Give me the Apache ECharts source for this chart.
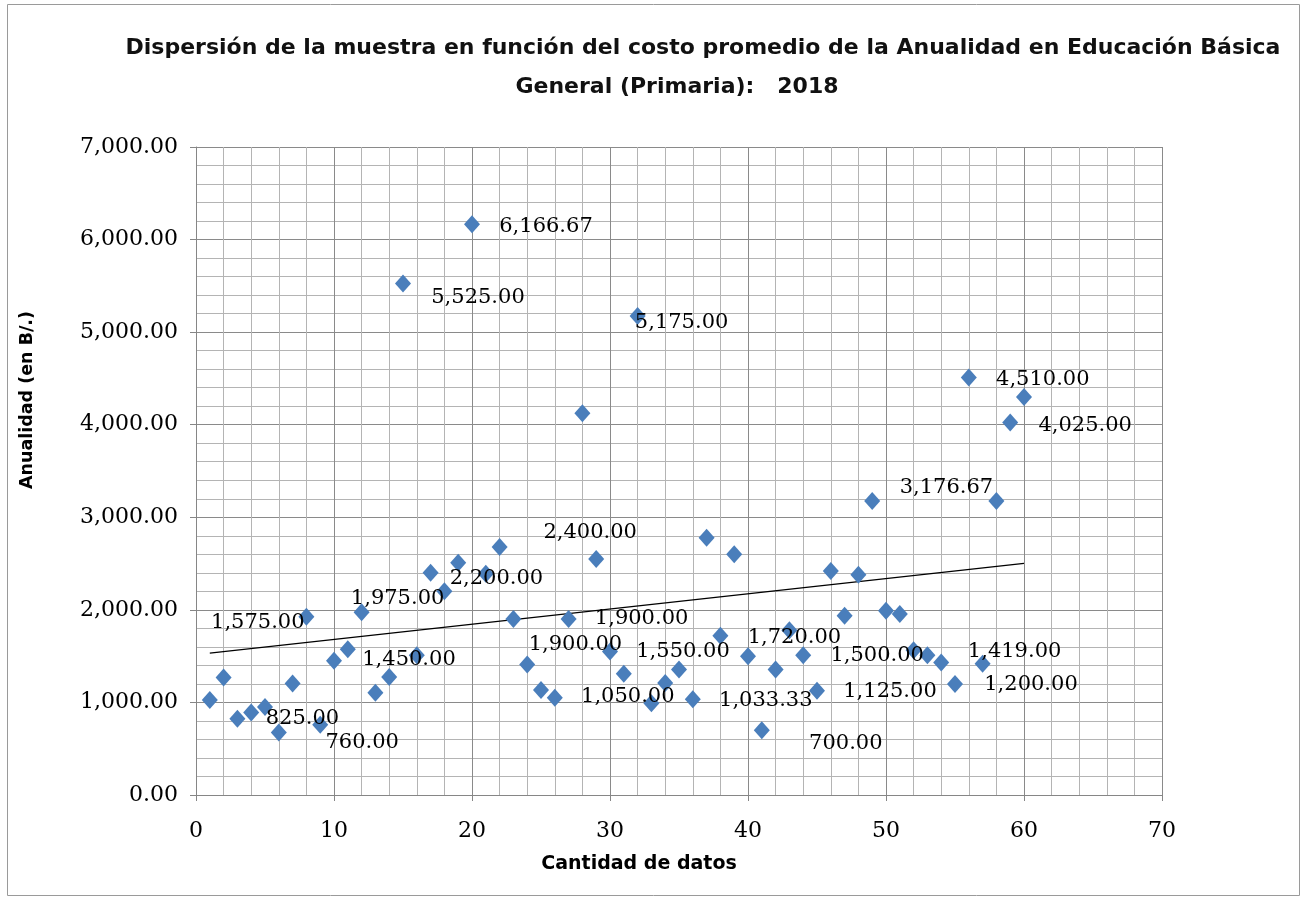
<!DOCTYPE html>
<html>
<head>
<meta charset="utf-8">
<title>Dispersión de la muestra</title>
<script src="https://cdn.jsdelivr.net/npm/echarts@6/dist/echarts.min.js"></script>
<style>
  html, body { margin: 0; padding: 0; background: #fff; }
  #chart { width: 1307px; height: 899px; }
</style>
</head>
<body>
<div id="chart"></div>
<script>
// muestra: posición (1..60) y anualidad en B/.
var positions = [];
for (var i = 1; i <= 60; i++) positions.push(i);

var anualidad = [
  1025, 1270, 825, 890, 950, 675, 1205, 1925, 760, 1450,
  1575, 1975, 1105, 1275, 5525, 1510, 2400, 2200, 2510, 6166.67,
  2390, 2680, 1900, 1410, 1135, 1050, 1900, 4125, 2550, 1550,
  1310, 5175, 990, 1210, 1355, 1033.33, 2780, 1720, 2600, 1500,
  700, 1355, 1780, 1510, 1125, 2420, 1935, 2380, 3176.67, 1990,
  1955, 1565, 1510, 1430, 1200, 4510, 1419, 3176.67, 4025, 4300
];

// etiquetas de datos que aparecen en el gráfico (punto -> texto)
var labelPoints = [20, 15, 32, 56, 59, 58, 29, 18, 12, 11, 10, 3, 9, 27, 23, 30, 26, 36, 38, 41, 44, 45, 57, 55];
var labelTexts = ['6,166.67', '5,525.00', '5,175.00', '4,510.00', '4,025.00', '3,176.67', '2,400.00', '2,200.00',
  '1,975.00', '1,575.00', '1,450.00', '825.00', '760.00', '1,900.00', '1,900.00', '1,550.00', '1,050.00',
  '1,033.33', '1,720.00', '700.00', '1,500.00', '1,125.00', '1,419.00', '1,200.00'];
// desplazamiento de cada etiqueta (px), igual que quedaron en el original
var labelOffsets = [[74, 2], [75, 14], [44, 7], [74, 2], [75, 3], [-50, -13], [-6, -26], [52, -13],
  [36, -14], [-90, -27], [75, -1], [65, 0], [42, 18], [73, -1], [62, 25], [73, 0], [73, -1],
  [73, 1], [74, 2], [84, 13], [74, 0], [73, 1], [32, -12], [76, 1]];

var xTicks = { min: 0, max: 70, interval: 10 };
var yTicks = { min: 0, max: 7000, interval: 1000 };

// línea de tendencia (mínimos cuadrados)
function trend(xs, ys) {
  var n = xs.length, sx = 0, sy = 0, sxx = 0, sxy = 0;
  for (var k = 0; k < n; k++) {
    sx += xs[k]; sy += ys[k]; sxx += xs[k] * xs[k]; sxy += xs[k] * ys[k];
  }
  var b = (n * sxy - sx * sy) / (n * sxx - sx * sx);
  var a = (sy - b * sx) / n;
  return [[xs[0], a + b * xs[0]], [xs[n - 1], a + b * xs[n - 1]]];
}

var fmt = function (v) {
  return v.toLocaleString('en-US', { minimumFractionDigits: 2, maximumFractionDigits: 2 });
};

var points = positions.map(function (x, idx) {
  var item = { value: [x, anualidad[idx]] };
  var li = labelPoints.indexOf(x);
  if (li >= 0) {
    item.label = {
      show: true,
      formatter: labelTexts[li],
      position: 'inside',
      align: 'center',
      verticalAlign: 'middle',
      offset: labelOffsets[li]
    };
  }
  return item;
});

var chart = echarts.init(document.getElementById('chart'));

var axisNameStyle = { fontFamily: 'DejaVu Sans', fontWeight: 'bold', fill: '#000' };
var titleStyle = { fontFamily: 'DejaVu Sans', fontWeight: 'bold', fontSize: 22, color: '#111' };

var option = {
  backgroundColor: '#fff',
  animation: false,
  title: [{
    text: 'Dispersión de la muestra en función del costo promedio de la Anualidad en Educación Básica',
    left: 703, top: 37, textAlign: 'center', padding: 0,
    textStyle: titleStyle
  }, {
    text: 'General (Primaria):   2018',
    left: 677, top: 76, textAlign: 'center', padding: 0,
    textStyle: titleStyle
  }],
  graphic: [{
    type: 'rect',
    shape: { x: 7.5, y: 4.5, width: 1292, height: 891 },
    style: { fill: 'none', stroke: '#9a9a9a', lineWidth: 1 },
    silent: true
  }, {
    type: 'text',
    x: 27, y: 400,
    rotation: Math.PI / 2,
    style: Object.assign({ text: 'Anualidad (en B/.)', fontSize: 17.5, align: 'center', verticalAlign: 'middle' }, axisNameStyle),
    silent: true
  }, {
    type: 'text',
    x: 639, y: 864,
    style: Object.assign({ text: 'Cantidad de datos', fontSize: 19, align: 'center', verticalAlign: 'middle' }, axisNameStyle),
    silent: true
  }],
  grid: { left: 196, right: 145, top: 147, bottom: 104 },
  xAxis: {
    type: 'value',
    min: xTicks.min, max: xTicks.max, interval: xTicks.interval,
    axisLine: { show: true, lineStyle: { color: '#868686' } },
    axisTick: { show: true, length: 6, lineStyle: { color: '#868686' } },
    axisLabel: { margin: 25, fontFamily: 'DejaVu Serif', fontSize: 22, color: '#000' },
    splitLine: { show: true, lineStyle: { color: '#8a8a8a', width: 1 } },
    minorTick: { show: true, splitNumber: 5, length: 0 },
    minorSplitLine: { show: true, lineStyle: { color: '#b4b4b4', width: 1 } }
  },
  yAxis: {
    type: 'value',
    min: yTicks.min, max: yTicks.max, interval: yTicks.interval,
    axisLine: { show: true, lineStyle: { color: '#868686' } },
    axisTick: { show: true, length: 6, lineStyle: { color: '#868686' } },
    axisLabel: { margin: 18, fontFamily: 'DejaVu Serif', fontSize: 22, color: '#000', formatter: fmt },
    splitLine: { show: true, lineStyle: { color: '#8a8a8a', width: 1 } },
    minorTick: { show: true, splitNumber: 5, length: 0 },
    minorSplitLine: { show: true, lineStyle: { color: '#b4b4b4', width: 1 } }
  },
  series: [{
    name: 'Anualidad',
    type: 'scatter',
    symbol: 'diamond',
    symbolSize: [16, 18],
    itemStyle: { color: '#4a7ebb', opacity: 1 },
    label: { fontFamily: 'DejaVu Serif', fontSize: 21, color: '#000' },
    data: points,
    z: 3
  }, {
    name: 'Tendencia',
    type: 'line',
    data: trend(positions, anualidad),
    symbol: 'none',
    lineStyle: { color: '#000', width: 1.4 },
    z: 2
  }]
};

chart.setOption(option);
</script>
</body>
</html>
